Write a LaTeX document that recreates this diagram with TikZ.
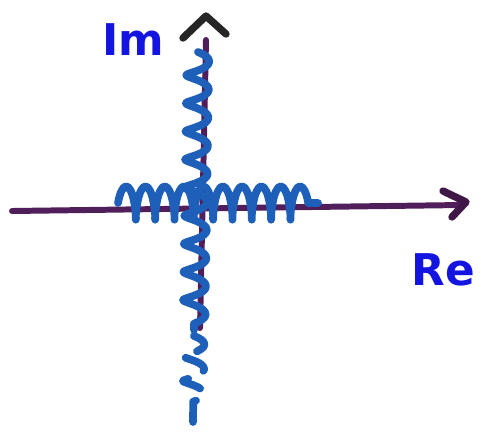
\documentclass[tikz,border=0pt]{standalone}
\usepackage{fontspec}
\setsansfont{DejaVu Sans}
\usetikzlibrary{
  calc,
  positioning,
  decorations.pathmorphing
}
\definecolor{axispurple}{RGB}{80,30,90}
\definecolor{coilblue}{RGB}{30,95,185}
\definecolor{labelblue}{RGB}{20,20,225}

\begin{document}
\begin{tikzpicture}[x=0.02cm,y=-0.02cm,line cap=round,line join=round]
  \tikzset{
    axisline/.style={axispurple,line width=3.4pt},
    tipline/.style={line width=4.2pt},
    coilline/.style={coilblue,line width=4.4pt,
      decorate,decoration={coil,aspect=0.2}},
    axislabel/.style={labelblue,font=\sffamily\bfseries\Huge}
  }
  \useasboundingbox (0,0) rectangle (481,434);
  % axes
  \coordinate (xl) at (12,211);
  \coordinate (xr) at (462,205);
  \coordinate (yt) at (206,40);
  \coordinate (yb) at (200,328);
  \draw[axisline] (xl) -- (xr);
  \draw[axisline] (yt) -- (yb);
  \draw[tipline,axispurple!80!black] (443,191) -- (466,202) -- (452,217);
  \draw[tipline,black!85] (183,38) -- (206,16) -- (226,34);
  % branch cuts
  \draw[coilline,decoration={amplitude=9.5pt,segment length=11pt}] (118,203) -- (318,203);
  \draw[coilline,decoration={amplitude=6.5pt,segment length=16pt}] (198,52) -- (194,330);
  \draw[coilline,dash pattern=on 14pt off 10pt,decoration={amplitude=6pt,segment length=14pt}] (194,336) -- (193,422);
  % labels
  \node[axislabel] (im) at (133,40) {Im};
  \node[axislabel] (re) at (443,270) {Re};
\end{tikzpicture}
\end{document}
